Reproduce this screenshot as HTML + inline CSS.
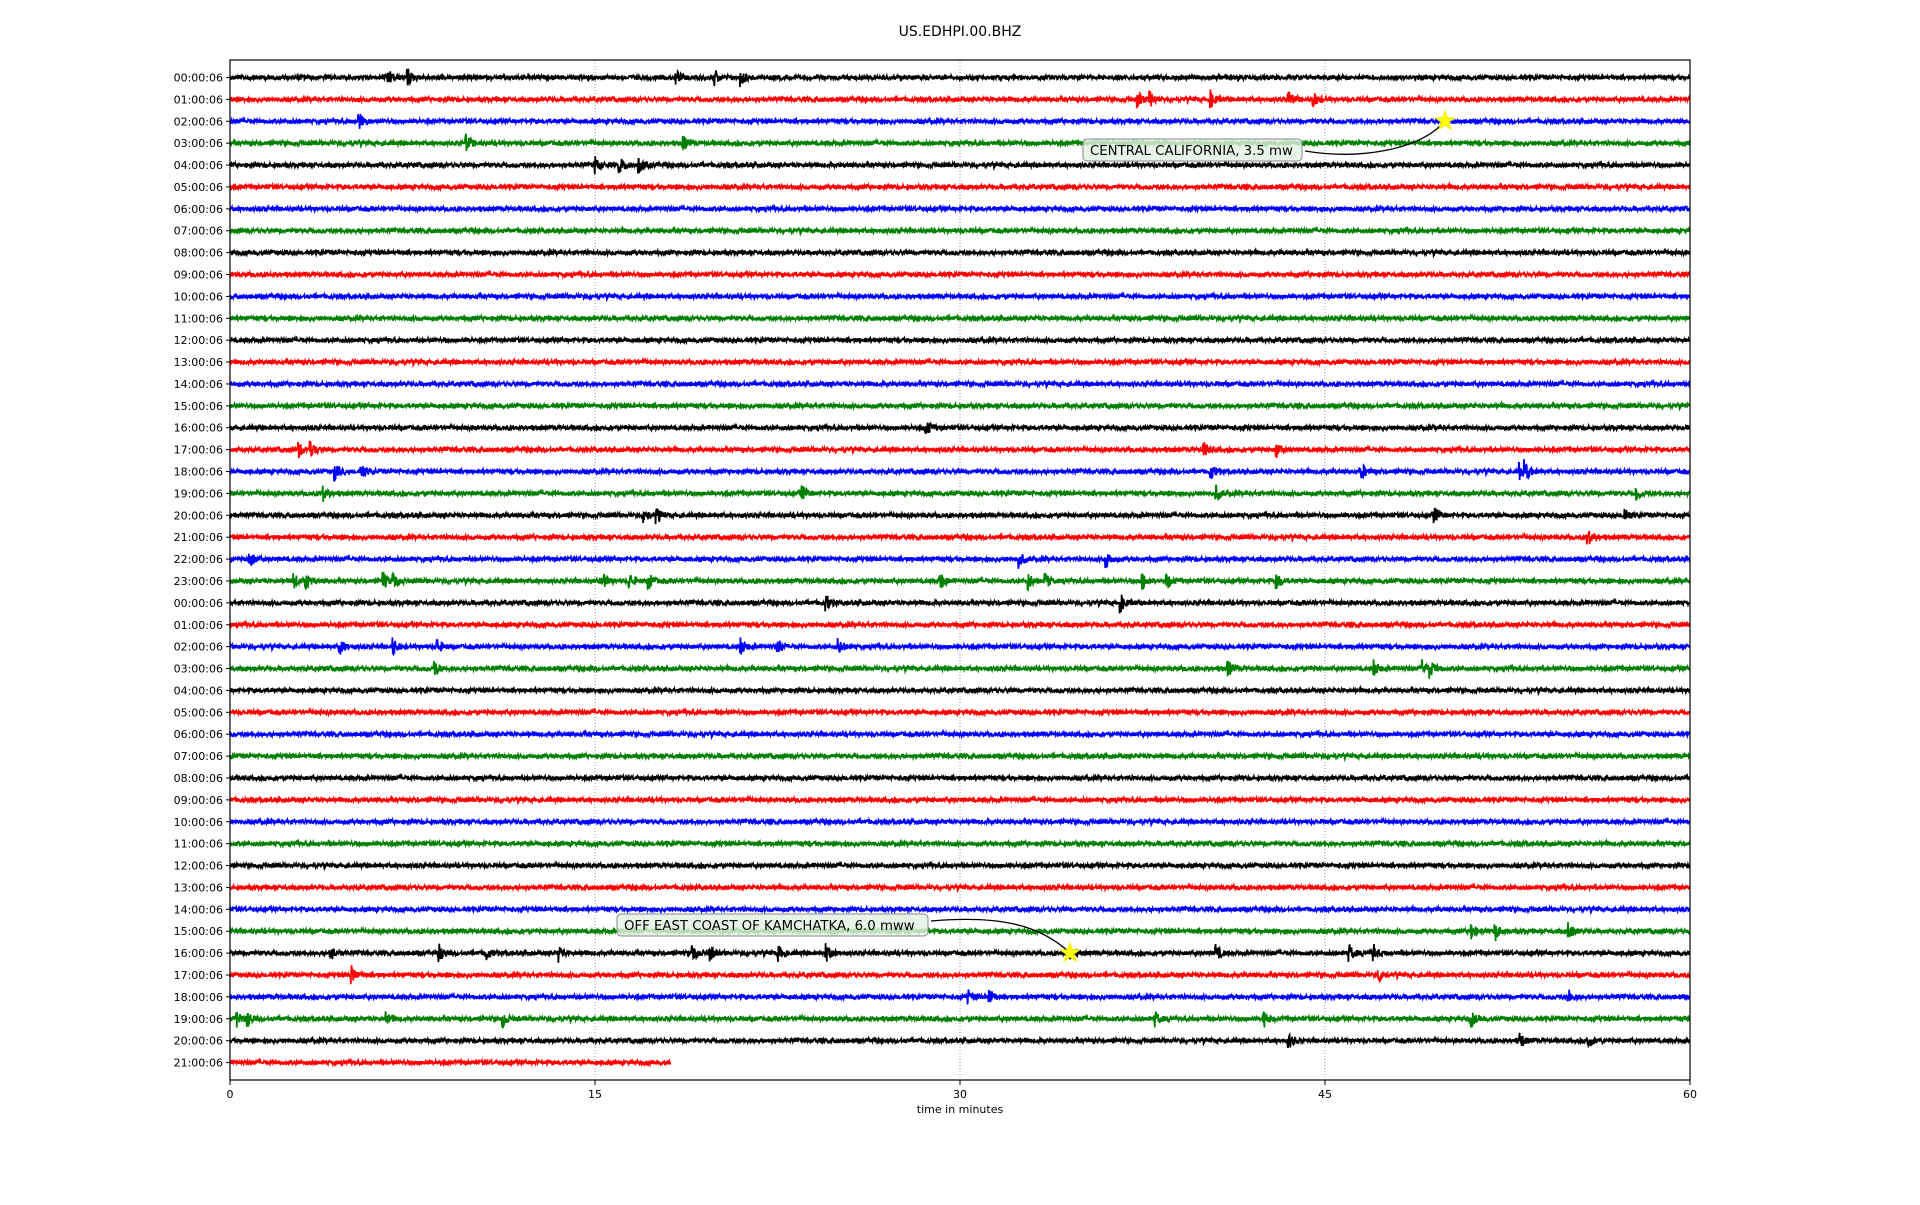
<!DOCTYPE html>
<html><head><meta charset="utf-8"><style>
body{margin:0;background:#fff;}
svg text{font-family:"DejaVu Sans","Liberation Sans",sans-serif;}
</style></head><body>
<svg id="s" width="1920" height="1200" xmlns="http://www.w3.org/2000/svg">
<rect width="1920" height="1200" fill="#fff"/>
<text x="960" y="36" font-size="14" text-anchor="middle">US.EDHPI.00.BHZ</text>
<g id="grid" stroke="#888" stroke-width="0.8" stroke-dasharray="1,2">
<line x1="595" y1="60" x2="595" y2="1080"/><line x1="960" y1="60" x2="960" y2="1080"/><line x1="1325" y1="60" x2="1325" y2="1080"/>
</g>
<g id="tr"></g>
<rect x="230" y="60" width="1460" height="1020" fill="none" stroke="#000" stroke-width="1.2"/>
<g id="ax" font-size="11" fill="#000"></g>
<g font-size="11" text-anchor="middle">
<line x1="230" y1="1080" x2="230" y2="1085" stroke="#000"/><text x="230" y="1098">0</text>
<line x1="595" y1="1080" x2="595" y2="1085" stroke="#000"/><text x="595" y="1098">15</text>
<line x1="960" y1="1080" x2="960" y2="1085" stroke="#000"/><text x="960" y="1098">30</text>
<line x1="1325" y1="1080" x2="1325" y2="1085" stroke="#000"/><text x="1325" y="1098">45</text>
<line x1="1690" y1="1080" x2="1690" y2="1085" stroke="#000"/><text x="1690" y="1098">60</text>
<text x="960" y="1113">time in minutes</text>
</g>
<path d="M1305,151 C1360,160 1420,150 1445,121" fill="none" stroke="#000" stroke-width="1.3"/>
<rect x="1083" y="139" width="219" height="22" rx="4" fill="#e4f1e4" fill-opacity="0.8" stroke="#888"/>
<text x="1090" y="155" font-size="13.3">CENTRAL CALIFORNIA, 3.5 mw</text>
<path d="M931,921 C1000,915 1040,925 1070,953" fill="none" stroke="#000" stroke-width="1.3"/>
<rect x="617" y="914" width="311" height="22" rx="4" fill="#e4f1e4" fill-opacity="0.8" stroke="#888"/>
<text x="624" y="930" font-size="13.3">OFF EAST COAST OF KAMCHATKA, 6.0 mww</text>
<polygon id="st1" fill="#ff0" stroke="#ee0"/>
<polygon id="st2" fill="#ff0" stroke="#ee0"/>
</svg>
<script>
var cols=["#000","#f00","#00f","#008000"];
var hours=[];for(var i=0;i<46;i++){var h=i%24;hours.push((h<10?"0":"")+h+":00:06");}
var seed=12345;function r(){seed=(seed*1103515245+12345)%2147483648;return seed/2147483648;}
var events={0:[6.5,7.3,18.3,19.9,21],1:[37.3,37.8,40.3,43.5,44.5],2:[5.3],3:[9.7,18.6],4:[15,16,16.8],16:[28.6],17:[2.8,3.3,40,43],18:[4.3,5.4,40.3,46.5,53,53.2],19:[3.8,23.5,40.5,57.8],20:[17,17.5,49.5,57.3],21:[55.8],22:[0.8,32.4,36],23:[2.6,3.1,6.3,6.7,15.3,16.4,17.2,29.2,32.8,33.5,37.5,38.5,43],24:[36.6,24.5],26:[4.5,6.7,8.5,21,22.5,25],27:[8.4,41,49,47,49.3],39:[51,52,55],40:[4.1,8.6,10.5,13.5,19,19.7,22.5,24.5,34.5,40.5,46,47],41:[5,47.2],42:[30.3,31.2,55],43:[0.3,0.7,6.4,11.2,38,42.5,51],44:[43.5,53,55.8]};
var g="",ax="";
for(var i=0;i<46;i++){
 var y0=77.5+i*21.89;var end=i==45?18.1:60;var xe=230+end*24.333;
 var ev=(events[i]||[]).map(function(m){return 230+m*24.333;});
 var d="M230,"+y0.toFixed(1);
 for(var x=230;x<=xe;x+=0.4){
  var a=2.0+(r()<0.02?1.0:0);
  for(var k=0;k<ev.length;k++){var dx=x-ev[k];if(dx>-1&&dx<20){a+=8*Math.exp(-Math.max(dx,0)/4);}}
  var yy=y0+(r()*2-1)*a;
  d+="L"+x.toFixed(2)+","+yy.toFixed(1);
 }
 g+='<path d="'+d+'" fill="none" stroke="'+cols[i%4]+'" stroke-width="1.7"/>';
 ax+='<line x1="226" y1="'+y0+'" x2="230" y2="'+y0+'" stroke="#000"/><text x="223" y="'+(y0+4)+'" text-anchor="end">'+hours[i]+'</text>';
}
document.getElementById("tr").innerHTML=g;document.getElementById("ax").innerHTML=ax;
function star(id,cx,cy,R){var p=[];for(var k=0;k<10;k++){var rr=k%2?R*0.4:R;var t=-Math.PI/2+k*Math.PI/5;p.push((cx+rr*Math.cos(t)).toFixed(1)+","+(cy+rr*Math.sin(t)).toFixed(1));}document.getElementById(id).setAttribute("points",p.join(" "));}
star("st1",1445,121,10);star("st2",1070,953,10);
</script>
</body></html>
